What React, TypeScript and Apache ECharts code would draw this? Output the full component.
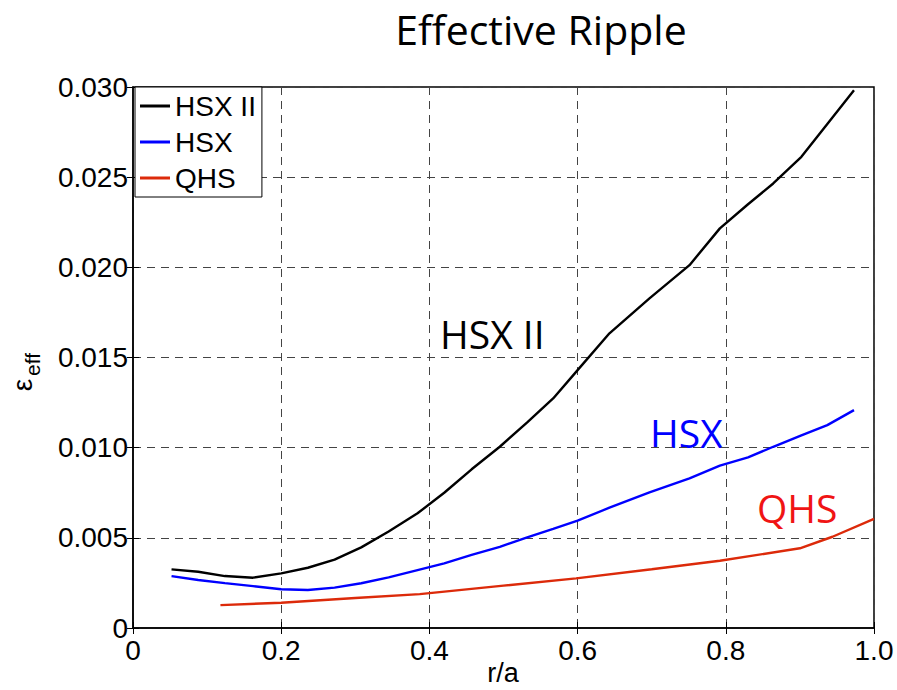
import React, { useEffect, useRef } from "react";
import * as echarts from "echarts";

// Effective ripple profiles versus normalized radius r/a
const hsx2R = [0.052, 0.088, 0.124, 0.162, 0.2, 0.236, 0.272, 0.308, 0.345, 0.384, 0.42, 0.457, 0.495, 0.532, 0.567, 0.6, 0.643, 0.697, 0.751, 0.792, 0.83, 0.864, 0.902, 0.937, 0.973];
const hsx2Eff = [0.00325, 0.00312, 0.00288, 0.00279, 0.00303, 0.00334, 0.00379, 0.00447, 0.00535, 0.00636, 0.0075, 0.0088, 0.01005, 0.0114, 0.01273, 0.0143, 0.01634, 0.01828, 0.02012, 0.02216, 0.0235, 0.02465, 0.02613, 0.02795, 0.02982];

const hsxR = [0.052, 0.088, 0.124, 0.162, 0.2, 0.236, 0.272, 0.308, 0.345, 0.384, 0.42, 0.457, 0.495, 0.532, 0.567, 0.6, 0.643, 0.697, 0.751, 0.792, 0.83, 0.864, 0.902, 0.937, 0.973];
const hsxEff = [0.00288, 0.00266, 0.00249, 0.00232, 0.00215, 0.00211, 0.00224, 0.00248, 0.00281, 0.00321, 0.00358, 0.00405, 0.0045, 0.00503, 0.0055, 0.00595, 0.00667, 0.00752, 0.0083, 0.009, 0.00946, 0.01005, 0.01068, 0.01125, 0.01208];

const qhsR = [0.118, 0.2, 0.3, 0.387, 0.5, 0.598, 0.7, 0.792, 0.9, 0.944, 1.0];
const qhsEff = [0.00127, 0.0014, 0.00166, 0.00188, 0.00235, 0.00275, 0.00326, 0.00373, 0.00442, 0.00506, 0.00605];

const seriesNames = ["HSX II", "HSX", "QHS"];
const lineColors = ["#000000", "#0000ff", "#dc2a0a"];

const xMin = 0, xMax = 1.0, xStep = 0.2;
const yMin = 0, yMax = 0.03, yStep = 0.005;

const pairs = (xs: number[], ys: number[]) => xs.map((x, i) => [x, ys[i]]);

const AXIS_FONT = "'Liberation Sans', Arial, sans-serif";
const TEXT_FONT = "'Open Sans', sans-serif";

export default function App() {
  const ref = useRef<HTMLDivElement>(null);

  useEffect(() => {
    if (!ref.current) return;
    const chart = echarts.init(ref.current, null, { renderer: "svg" });

    const grid = { left: 133, right: 23, top: 87, bottom: 62 };
    const dashed = { color: "#444", width: 1, type: [8, 6] as number[] };
    const tick = { show: true, inside: true, length: 6, lineStyle: { color: "#000", width: 1 } };

    chart.setOption({
      animation: false,
      backgroundColor: "#fff",
      grid: {
        ...grid,
        outerBoundsMode: "none",
        containLabel: false,
        show: true,
        borderColor: "#000",
        borderWidth: 1.5,
        backgroundColor: "transparent",
      },
      legend: {
        orient: "vertical",
        left: 135,
        top: 87,
        padding: [5, 6, 5, 5],
        itemGap: 8,
        itemWidth: 30,
        itemHeight: 3,
        icon: "rect",
        backgroundColor: "#fff",
        borderColor: "#000",
        borderWidth: 1,
        borderRadius: 0,
        data: seriesNames,
        textStyle: { fontFamily: AXIS_FONT, fontSize: 28, color: "#000", lineHeight: 28 },
      },
      xAxis: [
        {
          type: "value",
          min: xMin,
          max: xMax,
          interval: xStep,
          axisLine: { show: true, lineStyle: { color: "#000", width: 1.5 } },
          axisTick: tick,
          splitLine: { show: true, lineStyle: dashed },
          axisLabel: {
            fontFamily: AXIS_FONT,
            fontSize: 28,
            color: "#000",
            margin: 8,
            formatter: (v: number) => (v === 0 ? "0" : v.toFixed(1)),
          },
        },
        {
          type: "value",
          position: "top",
          min: xMin,
          max: xMax,
          interval: xStep,
          axisLine: { show: false },
          axisTick: tick,
          splitLine: { show: false },
          axisLabel: { show: false },
        },
      ],
      yAxis: [
        {
          type: "value",
          min: yMin,
          max: yMax,
          interval: yStep,
          axisLine: { show: true, lineStyle: { color: "#000", width: 1.5 } },
          axisTick: tick,
          splitLine: { show: true, lineStyle: dashed },
          axisLabel: {
            fontFamily: AXIS_FONT,
            fontSize: 28,
            color: "#000",
            margin: 5,
            formatter: (v: number) => (v === 0 ? "0" : v.toFixed(3)),
          },
        },
        {
          type: "value",
          position: "right",
          min: yMin,
          max: yMax,
          interval: yStep,
          axisLine: { show: false },
          axisTick: tick,
          splitLine: { show: false },
          axisLabel: { show: false },
        },
      ],
      series: [
        { name: seriesNames[0], type: "line", data: pairs(hsx2R, hsx2Eff) },
        { name: seriesNames[1], type: "line", data: pairs(hsxR, hsxEff) },
        { name: seriesNames[2], type: "line", data: pairs(qhsR, qhsEff) },
      ].map((s, i) => ({
        ...s,
        xAxisIndex: 0,
        yAxisIndex: 0,
        symbol: "none",
        smooth: false,
        color: lineColors[i],
        lineStyle: { color: lineColors[i], width: 2.4 },
        z: 3,
      })),
      graphic: [
        {
          type: "text",
          x: 541,
          y: 29,
          style: {
            text: "Effective Ripple",
            font: `41px ${TEXT_FONT}`,
            fill: "#000",
            textAlign: "center",
            textVerticalAlign: "middle",
          },
        },
        {
          // x-axis title
          type: "text",
          x: 503,
          y: 673,
          style: { text: "r/a", font: `27px ${AXIS_FONT}`, fill: "#000", textAlign: "center", textVerticalAlign: "middle" },
        },
        {
          type: "text",
          x: 440,
          y: 333,
          style: { text: "HSX II", font: `39px ${TEXT_FONT}`, fill: "#000", textAlign: "left", textVerticalAlign: "middle" },
        },
        {
          type: "text",
          x: 650,
          y: 432,
          style: { text: "HSX", font: `39px ${TEXT_FONT}`, fill: "#0000ff", textAlign: "left", textVerticalAlign: "middle" },
        },
        {
          type: "text",
          x: 757,
          y: 507,
          style: { text: "QHS", font: `39px ${TEXT_FONT}`, fill: "#f01414", textAlign: "left", textVerticalAlign: "middle" },
        },
        {
          // rotated y-axis title: epsilon with subscript "eff"
          type: "group",
          x: 22,
          y: 385,
          rotation: Math.PI / 2,
          children: [
            {
              type: "text",
              x: 0,
              y: 0,
              style: { text: "ε", font: `28px ${AXIS_FONT}`, fill: "#000", textAlign: "center", textVerticalAlign: "middle" },
            },
            {
              type: "text",
              x: 9,
              y: 10,
              style: { text: "eff", font: `21px ${AXIS_FONT}`, fill: "#000", textAlign: "left", textVerticalAlign: "middle" },
            },
          ],
        },
      ],
    });

    return () => chart.dispose();
  }, []);

  return <div ref={ref} style={{ position: "fixed", left: 0, top: 0, width: 897, height: 690 }} />;
}
